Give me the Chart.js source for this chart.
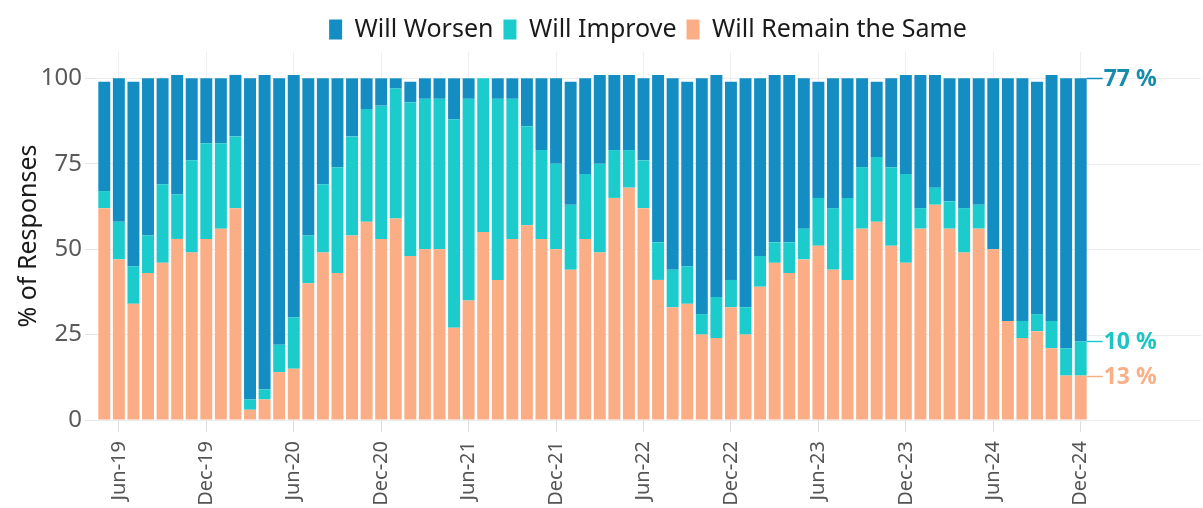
<!DOCTYPE html>
<html>
<head>
<meta charset="utf-8">
<script src="https://cdn.jsdelivr.net/npm/chart.js@4"></script>
<style>
  html, body { margin: 0; padding: 0; background: #fff; }
  #wrap { width: 1203px; height: 508px; position: relative; }
</style>
</head>
<body>
<div id="wrap"><canvas id="chartOutlook"></canvas></div>
<script>
const months = [
  "May-19", "Jun-19", "Jul-19", "Aug-19", "Sep-19", "Oct-19", "Nov-19", "Dec-19",
  "Jan-20", "Feb-20", "Mar-20", "Apr-20", "May-20", "Jun-20", "Jul-20", "Aug-20", "Sep-20", "Oct-20", "Nov-20", "Dec-20",
  "Jan-21", "Feb-21", "Mar-21", "Apr-21", "May-21", "Jun-21", "Jul-21", "Aug-21", "Sep-21", "Oct-21", "Nov-21", "Dec-21",
  "Jan-22", "Feb-22", "Mar-22", "Apr-22", "May-22", "Jun-22", "Jul-22", "Aug-22", "Sep-22", "Oct-22", "Nov-22", "Dec-22",
  "Jan-23", "Feb-23", "Mar-23", "Apr-23", "May-23", "Jun-23", "Jul-23", "Aug-23", "Sep-23", "Oct-23", "Nov-23", "Dec-23",
  "Jan-24", "Feb-24", "Mar-24", "Apr-24", "May-24", "Jun-24", "Jul-24", "Aug-24", "Sep-24", "Oct-24", "Nov-24", "Dec-24"
];

const willRemain = [62, 47, 34, 43, 46, 53, 49, 53, 56, 62, 3, 6, 14, 15, 40, 49, 43, 54, 58, 53,
  59, 48, 50, 50, 27, 35, 55, 41, 53, 57, 53, 50, 44, 53, 49, 65, 68, 62, 41, 33,
  34, 25, 24, 33, 25, 39, 46, 43, 47, 51, 44, 41, 56, 58, 51, 46, 56, 63, 56, 49,
  56, 50, 29, 24, 26, 21, 13, 13];
const willImprove = [5, 11, 11, 11, 23, 13, 27, 28, 25, 21, 3, 3, 8, 15, 14, 20, 31, 29, 33, 39,
  38, 45, 44, 44, 61, 59, 45, 53, 41, 29, 26, 25, 19, 19, 26, 14, 11, 14, 11, 11,
  11, 6, 12, 8, 8, 9, 6, 9, 9, 14, 18, 24, 18, 19, 23, 26, 6, 5, 8, 13,
  7, 0, 0, 5, 5, 8, 8, 10];
const willWorsen = [32, 42, 54, 46, 31, 35, 24, 19, 19, 18, 94, 92, 78, 71, 46, 31, 26, 17, 9, 8,
  3, 6, 6, 6, 12, 6, 0, 6, 6, 14, 21, 25, 36, 28, 26, 22, 22, 24, 49, 56,
  54, 69, 65, 58, 67, 52, 49, 49, 44, 34, 38, 35, 26, 22, 26, 29, 39, 33, 36, 38,
  37, 50, 71, 71, 68, 72, 79, 77];

const yTicks = [0, 25, 50, 75, 100];

const blue = "#148DC3";
const teal = "#1CCCCC";
const salmon = "#FBAE86";
const fontFam = "'Noto Sans', 'Open Sans', sans-serif";

const showTick = (i) => i % 6 === 1;

// legend sits right of centre in the original
const legendShift = {
  id: "legendShift",
  afterLayout(chart) {
    chart.legend.left += 102;
    chart.legend.right += 102;
  },
};

// leader lines + end labels for the last month
const endLabels = {
  id: "endLabels",
  beforeDatasetsDraw(chart) {
    const ctx = chart.ctx;
    const area = chart.chartArea;
    const y = chart.scales.y;
    ctx.save();
    ctx.strokeStyle = "#ececec";
    ctx.lineWidth = 1;
    yTicks.forEach((t) => {
      const py = Math.round(y.getPixelForValue(t)) + 0.5;
      ctx.beginPath();
      ctx.moveTo(area.right, py);
      ctx.lineTo(chart.width - 2, py);
      ctx.stroke();
    });
    ctx.restore();
  },
  afterDatasetsDraw(chart) {
    const ctx = chart.ctx;
    const last = months.length - 1;
    const items = [
      { ds: 2, text: willWorsen[last] + " %", line: blue, color: "#168CAD" },
      { ds: 1, text: willImprove[last] + " %", line: teal, color: "#1DC4C4" },
      { ds: 0, text: willRemain[last] + " %", line: salmon, color: "#F9AE86" },
    ];
    ctx.save();
    ctx.font = "bold 23px " + fontFam;
    ctx.textBaseline = "middle";
    items.forEach((it) => {
      const bar = chart.getDatasetMeta(it.ds).data[last];
      const x0 = bar.x + bar.width / 2;
      const py = Math.round(bar.y) + 0.5;
      ctx.strokeStyle = it.line;
      ctx.lineWidth = 1.5;
      ctx.beginPath();
      ctx.moveTo(x0, py);
      ctx.lineTo(x0 + 16, py);
      ctx.stroke();
      ctx.fillStyle = it.color;
      ctx.fillText(it.text, x0 + 17, py + 1);
    });
    ctx.restore();
  },
};

const chartOutlook = new Chart(document.getElementById("chartOutlook"), {
  type: "bar",
  data: {
    labels: months,
    datasets: [
      { label: "Will Remain the Same", data: willRemain, backgroundColor: salmon },
      { label: "Will Improve", data: willImprove, backgroundColor: teal },
      { label: "Will Worsen", data: willWorsen, backgroundColor: blue },
    ],
  },
  options: {
    maintainAspectRatio: false,
    animation: false,
    layout: { padding: { left: 4, right: 115, top: 7, bottom: 0 } },
    datasets: {
      bar: {
        categoryPercentage: 1,
        barPercentage: 0.82,
        borderWidth: 0,
        clip: false,
      },
    },
    plugins: {
      legend: {
        display: true,
        position: "top",
        reverse: true,
        labels: {
          boxWidth: 13,
          boxHeight: 20,
          padding: 10,
          color: "#1a1a1a",
          font: { family: fontFam, size: 25 },
        },
      },
      tooltip: { enabled: false },
    },
    scales: {
      x: {
        stacked: true,
        afterFit: (s) => {
          s.height = 88;
        },
        grid: {
          offset: false,
          color: (c) => (showTick(c.index) ? "#efefef" : "transparent"),
          tickColor: (c) => (showTick(c.index) ? "#dddddd" : "transparent"),
          tickLength: 12,
        },
        border: { display: false },
        ticks: {
          autoSkip: false,
          minRotation: 90,
          maxRotation: 90,
          padding: 9,
          color: "#555",
          font: { family: fontFam, size: 20 },
          callback: function (v, i) {
            return showTick(i) ? months[i] : "";
          },
        },
      },
      y: {
        stacked: true,
        min: 0,
        max: 107.7,
        afterFit: (s) => {
          s.width = 93;
        },
        afterBuildTicks: (s) => {
          s.ticks = yTicks.map((v) => ({ value: v }));
        },
        grid: { color: "#ececec", tickColor: "#e4e4e4", tickLength: 12 },
        border: { display: false },
        ticks: {
          color: "#5a5a5a",
          padding: 3,
          font: { family: fontFam, size: 24 },
        },
        title: {
          display: true,
          text: "% of Responses",
          color: "#1a1a1a",
          font: { family: fontFam, size: 25 },
          padding: { top: 10, bottom: 0 },
        },
      },
    },
  },
  plugins: [legendShift, endLabels],
});
</script>
</body>
</html>
